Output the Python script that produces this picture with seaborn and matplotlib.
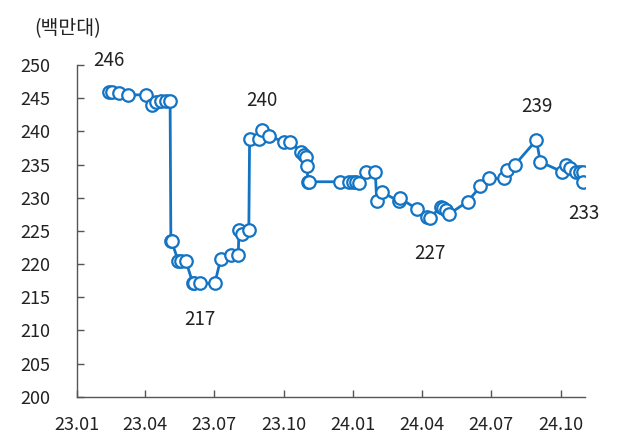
import matplotlib
matplotlib.use("Agg")
import matplotlib.pyplot as plt
import matplotlib.dates as mdates
import seaborn as sns
import pandas as pd

dates = [
    "2023-02-12", "2023-02-16", "2023-02-25", "2023-03-09", "2023-04-02", "2023-04-10",
    "2023-04-16", "2023-04-22", "2023-04-28", "2023-05-04", "2023-05-05", "2023-05-06",
    "2023-05-15", "2023-05-18", "2023-05-25", "2023-06-03", "2023-06-05", "2023-06-12",
    "2023-07-02", "2023-07-10", "2023-07-23", "2023-08-02", "2023-08-03", "2023-08-07",
    "2023-08-16", "2023-08-17", "2023-08-30", "2023-09-02", "2023-09-11", "2023-10-02",
    "2023-10-10", "2023-10-24", "2023-10-28", "2023-10-31", "2023-11-01", "2023-11-02",
    "2023-11-03", "2023-12-14", "2023-12-26", "2024-01-01", "2024-01-05", "2024-01-09",
    "2024-01-18", "2024-01-30", "2024-02-01", "2024-02-08", "2024-03-01", "2024-03-03",
    "2024-03-25", "2024-04-08", "2024-04-11", "2024-04-26", "2024-04-29", "2024-05-02",
    "2024-05-06", "2024-05-31", "2024-06-17", "2024-06-28", "2024-07-18", "2024-07-22",
    "2024-08-01", "2024-08-30", "2024-09-04", "2024-10-03", "2024-10-08", "2024-10-13",
    "2024-10-21", "2024-10-26", "2024-10-30", "2024-10-31",
]
values = [
    246.0, 246.0, 245.8, 245.5, 245.5, 243.9,
    244.4, 244.5, 244.5, 244.5, 223.4, 223.4,
    220.4, 220.4, 220.4, 217.1, 217.1, 217.1,
    217.1, 220.8, 221.4, 221.4, 225.1, 224.5,
    225.1, 238.9, 238.9, 240.2, 239.3, 238.4,
    238.4, 236.9, 236.5, 236.2, 234.7, 232.4,
    232.4, 232.4, 232.4, 232.4, 232.4, 232.2,
    233.9, 233.9, 229.5, 230.8, 229.5, 229.9,
    228.3, 227.1, 227.0, 228.6, 228.5, 228.1,
    227.5, 229.4, 231.7, 232.9, 232.9, 234.2,
    234.9, 238.7, 235.4, 233.9, 234.9, 234.4,
    233.9, 233.9, 233.9, 232.4,
]
annot_dates = ["2023-02-12", "2023-09-02", "2023-06-12", "2024-04-11", "2024-08-30", "2024-10-31"]
annot_values = [246, 240, 217, 227, 239, 233]
annot_pos = ["above", "above", "below", "below", "above", "below"]
xtick_dates = ["2023-01-01", "2023-04-01", "2023-07-01", "2023-10-01",
               "2024-01-01", "2024-04-01", "2024-07-01", "2024-10-01"]
xtick_labels = ["23.01", "23.04", "23.07", "23.10", "24.01", "24.04", "24.07", "24.10"]
yticks = [200, 205, 210, 215, 220, 225, 230, 235, 240, 245, 250]
unit_label = "(백만대)"

sns.set_style("white")
plt.rcParams["font.family"] = ["Noto Sans CJK KR", "DejaVu Sans"]

df = pd.DataFrame({"date": pd.to_datetime(dates), "value": values})

blue = "#1474c4"
txt = "#222222"
fig = plt.figure(figsize=(6.17, 4.41), dpi=100)
ax = fig.add_axes([0.1248, 0.1005, 0.8232, 0.7521])
sns.lineplot(data=df, x="date", y="value", ax=ax, color=blue, linewidth=2.0,
             marker="o", markersize=9, markerfacecolor="white",
             markeredgecolor=blue, markeredgewidth=1.6, estimator=None, sort=False)

ax.set_xlim(pd.Timestamp("2023-01-01"), pd.Timestamp("2024-11-02"))
ax.set_ylim(200, 250)
ax.set_yticks(yticks)
ax.set_yticklabels([str(v) for v in yticks], fontsize=13, color=txt)
ax.set_xticks(pd.to_datetime(xtick_dates))
ax.set_xticklabels(xtick_labels, fontsize=13, color=txt)
ax.tick_params(axis="both", direction="in", length=5, width=1, color="#555555",
               left=True, bottom=True)
ax.tick_params(axis="x", pad=14)
ax.tick_params(axis="y", pad=19)
ax.set_xlabel("")
ax.set_ylabel("")
for side in ["top", "right"]:
    ax.spines[side].set_visible(False)
for side in ["left", "bottom"]:
    ax.spines[side].set_color("#555555")
    ax.spines[side].set_linewidth(1.0)

for d, v, p in zip(annot_dates, annot_values, annot_pos):
    off = 15 if p == "above" else -18
    ax.annotate(str(v), (pd.Timestamp(d), v), xytext=(0, off), textcoords="offset points",
                ha="center", va="bottom" if p == "above" else "top", fontsize=13.5,
                color=txt)

fig.text(0.055, 0.935, unit_label, fontsize=14, color=txt, ha="left", va="center")

fig.savefig("out.png", dpi=100)
